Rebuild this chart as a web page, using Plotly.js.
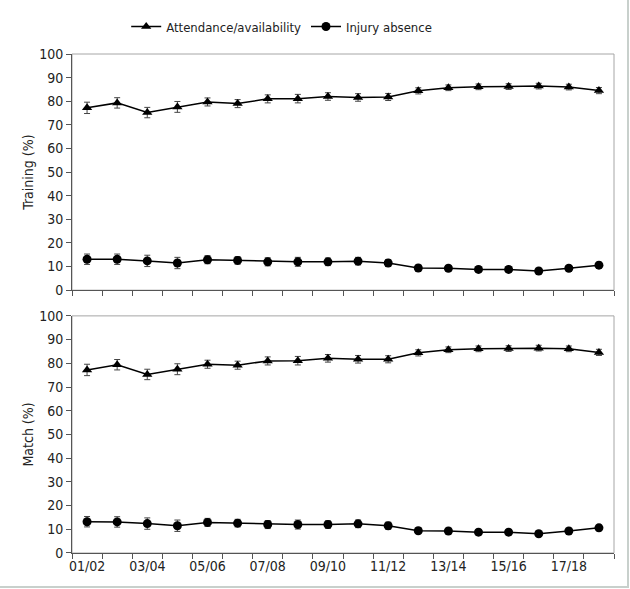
<!DOCTYPE html>
<html>
<head>
<meta charset="utf-8">
<script src="https://cdn.plot.ly/plotly-3.0.1.min.js"></script>
<style>
html,body{margin:0;padding:0;background:#fff;}
#wrap{width:627px;height:586px;border-right:2px solid #c8d0cc;border-bottom:2px solid #c8d0cc;overflow:hidden;}
#chart{width:630px;height:589px;}
</style>
</head>
<body>
<div id="wrap"><div id="chart"></div></div>
<script>
const seasons = ['01/02','02/03','03/04','04/05','05/06','06/07','07/08','08/09','09/10','10/11','11/12','12/13','13/14','14/15','15/16','16/17','17/18','18/19'];
const tickLabels = ['01/02','','03/04','','05/06','','07/08','','09/10','','11/12','','13/14','','15/16','','17/18',''];

const trainAttend   = [77.2, 79.3, 75.2, 77.6, 79.7, 79.0, 81.0, 81.1, 82.0, 81.6, 81.8, 84.4, 85.7, 86.1, 86.2, 86.4, 86.0, 84.5];
const trainAttendSD = [2.4, 2.2, 2.2, 2.3, 1.7, 1.7, 1.7, 1.8, 1.6, 1.6, 1.5, 1.3, 1.2, 1.2, 1.2, 1.2, 1.2, 1.3];
const trainInjury   = [13.1, 13.1, 12.4, 11.5, 12.9, 12.6, 12.0, 12.0, 12.0, 12.3, 11.5, 9.4, 9.3, 8.8, 8.8, 8.1, 9.3, 10.6];
const trainInjurySD = [2.2, 2.2, 2.4, 2.4, 1.7, 1.6, 1.7, 1.9, 1.6, 1.6, 1.5, 1.2, 1.1, 1.1, 1.1, 1.0, 1.1, 1.2];

const matchAttend   = [77.2, 79.4, 75.3, 77.5, 79.6, 79.2, 81.0, 81.1, 82.1, 81.7, 81.7, 84.4, 85.7, 86.1, 86.2, 86.4, 86.1, 84.6];
const matchAttendSD = [2.4, 2.2, 2.2, 2.3, 1.7, 1.7, 1.7, 1.8, 1.6, 1.6, 1.5, 1.3, 1.2, 1.2, 1.2, 1.2, 1.2, 1.3];
const matchInjury   = [13.2, 13.1, 12.4, 11.5, 12.9, 12.6, 12.0, 12.0, 12.0, 12.3, 11.5, 9.4, 9.3, 8.8, 8.8, 8.1, 9.3, 10.6];
const matchInjurySD = [2.2, 2.2, 2.4, 2.4, 1.7, 1.6, 1.7, 1.9, 1.6, 1.6, 1.5, 1.2, 1.1, 1.1, 1.1, 1.0, 1.1, 1.2];

const FONT = '"DejaVu Sans Condensed", Lato, sans-serif';
function tr(y, sd, name, sym, xa, ya, show){
  return {
    x: seasons, y: y, name: name, type: 'scatter', mode: 'lines+markers',
    xaxis: xa, yaxis: ya, showlegend: show, legendgroup: name,
    line: {color: '#000', width: 1.5},
    marker: {symbol: sym, size: 9, color: '#000'},
    error_y: {type: 'data', array: sd, visible: true, color: '#444', thickness: 1, width: 3}
  };
}
const data = [
  tr(trainAttend, trainAttendSD, 'Attendance/availability', 'triangle-up', 'x', 'y', true),
  tr(trainInjury, trainInjurySD, 'Injury absence', 'circle', 'x', 'y', true),
  tr(matchAttend, matchAttendSD, 'Attendance/availability', 'triangle-up', 'x2', 'y2', false),
  tr(matchInjury, matchInjurySD, 'Injury absence', 'circle', 'x2', 'y2', false)
];

function xax(anchor, showLabels){
  return {
    type: 'category', anchor: anchor, domain: [0, 1],
    range: [-0.5, seasons.length - 0.5],
    tickmode: 'array', tickvals: seasons, ticktext: tickLabels,
    showticklabels: showLabels, tickson: 'boundaries', tickangle: 0,
    ticks: 'outside', ticklen: 5, tickcolor: '#555', tickwidth: 1,
    showline: true, linecolor: '#555', linewidth: 1,
    showgrid: false, zeroline: false,
    tickfont: {family: FONT, size: 14, color: '#222'}
  };
}
function yax(anchor, dom, title){
  return {
    anchor: anchor, domain: dom, range: [0, 100], dtick: 10,
    ticks: 'outside', ticklen: 5, tickcolor: '#555',
    showline: true, linecolor: '#555', linewidth: 1,
    showgrid: false, zeroline: false,
    tickfont: {family: FONT, size: 14, color: '#222'},
    title: {text: title, font: {family: FONT, size: 14, color: '#222'}, standoff: 2}
  };
}

const layout = {
  width: 630, height: 589,
  margin: {l: 72, r: 16, t: 48, b: 36},
  paper_bgcolor: '#fff', plot_bgcolor: '#fff',
  font: {family: FONT, color: '#222'},
  showlegend: true,
  legend: {orientation: 'h', x: 0.1, xanchor: 'left', y: 1.055, yanchor: 'middle',
           font: {family: FONT, size: 13, color: '#222'}, tracegroupgap: 0},
  xaxis: xax('y', false),
  yaxis: yax('x', [0.5267, 1], 'Training (%)'),
  xaxis2: xax('y2', true),
  yaxis2: yax('x2', [0, 0.4752], 'Match (%)'),
  shapes: [
    {type: 'rect', xref: 'x domain', yref: 'y domain', x0: 0, x1: 1, y0: 0, y1: 1, line: {color: '#a6a6a6', width: 1}, layer: 'below'},
    {type: 'rect', xref: 'x2 domain', yref: 'y2 domain', x0: 0, x1: 1, y0: 0, y1: 1, line: {color: '#a6a6a6', width: 1}, layer: 'below'}
  ]
};

Plotly.newPlot('chart', data, layout, {displayModeBar: false, staticPlot: true});
</script>
</body>
</html>
